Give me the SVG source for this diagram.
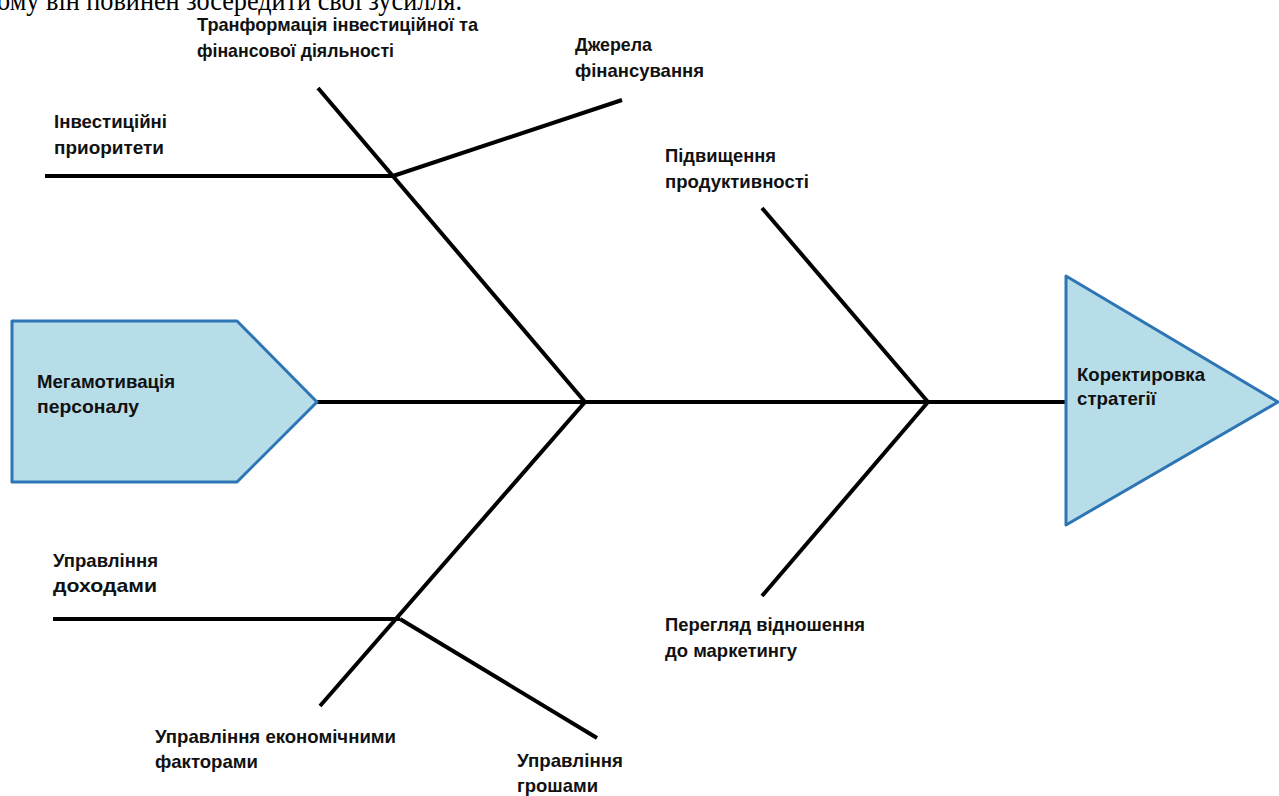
<svg xmlns="http://www.w3.org/2000/svg" width="1279" height="796" viewBox="0 0 1279 796">
<style>
.lbl{font-family:"Liberation Sans",Arial,sans-serif;font-weight:bold;font-size:18.5px;fill:#111;}
.bone{stroke:#000;stroke-width:4;fill:none;stroke-linecap:butt;}
.shape{fill:#b7dde8;stroke:#2e75b6;stroke-width:3;stroke-linejoin:round;}
.top{font-family:"Liberation Serif","Times New Roman",serif;font-size:29px;fill:#000;}
</style>
<rect width="1279" height="796" fill="#fff"/>
<text class="top" x="-14" y="10" textLength="476" lengthAdjust="spacingAndGlyphs">тому він повинен зосередити свої зусилля.</text>
<g id="connectors">
<line class="bone" x1="317" y1="402" x2="1066" y2="402"/>
<line class="bone" x1="318" y1="88" x2="585" y2="402"/>
<line class="bone" x1="585" y1="402" x2="320" y2="706"/>
<line class="bone" x1="45" y1="176" x2="393" y2="176"/>
<line class="bone" x1="393" y1="176" x2="622" y2="100"/>
<line class="bone" x1="53" y1="619" x2="400" y2="619"/>
<line class="bone" x1="400" y1="619" x2="597" y2="738"/>
<line class="bone" x1="762" y1="208" x2="928" y2="402"/>
<line class="bone" x1="928" y1="402" x2="762" y2="596"/>
</g>
<g id="head-left">
<polygon class="shape" points="12,321 237,321 317,402 237,482 12,482"/>
<text class="lbl" x="37" y="388" textLength="138" lengthAdjust="spacingAndGlyphs">Мегамотивація</text>
<text class="lbl" x="37" y="413" textLength="102" lengthAdjust="spacingAndGlyphs">персоналу</text>
</g>
<g id="head-right">
<polygon class="shape" points="1066,276 1278,402 1066,525"/>
<text class="lbl" x="1077" y="381" textLength="128" lengthAdjust="spacingAndGlyphs">Коректировка</text>
<text class="lbl" x="1077" y="405" textLength="79" lengthAdjust="spacingAndGlyphs">стратегії</text>
</g>
<g id="n-transform">
<text class="lbl" x="197" y="31" textLength="281" lengthAdjust="spacingAndGlyphs">Транформація інвестиційної та</text>
<text class="lbl" x="197" y="57" textLength="197" lengthAdjust="spacingAndGlyphs">фінансової діяльності</text>
</g>
<g id="n-sources">
<text class="lbl" x="575" y="51" textLength="77" lengthAdjust="spacingAndGlyphs">Джерела</text>
<text class="lbl" x="575" y="77" textLength="129" lengthAdjust="spacingAndGlyphs">фінансування</text>
</g>
<g id="n-invest">
<text class="lbl" x="54" y="128" textLength="113" lengthAdjust="spacingAndGlyphs">Інвестиційні</text>
<text class="lbl" x="54" y="154" textLength="110" lengthAdjust="spacingAndGlyphs">приоритети</text>
</g>
<g id="n-productivity">
<text class="lbl" x="665" y="162" textLength="111" lengthAdjust="spacingAndGlyphs">Підвищення</text>
<text class="lbl" x="665" y="188" textLength="144" lengthAdjust="spacingAndGlyphs">продуктивності</text>
</g>
<g id="n-income">
<text class="lbl" x="53" y="567" textLength="105" lengthAdjust="spacingAndGlyphs">Управління</text>
<text class="lbl" x="53" y="592" textLength="104" lengthAdjust="spacingAndGlyphs">доходами</text>
</g>
<g id="n-marketing">
<text class="lbl" x="665" y="631" textLength="200" lengthAdjust="spacingAndGlyphs">Перегляд відношення</text>
<text class="lbl" x="665" y="657" textLength="132" lengthAdjust="spacingAndGlyphs">до маркетингу</text>
</g>
<g id="n-econ">
<text class="lbl" x="155" y="743" textLength="241" lengthAdjust="spacingAndGlyphs">Управління економічними</text>
<text class="lbl" x="155" y="768" textLength="103" lengthAdjust="spacingAndGlyphs">факторами</text>
</g>
<g id="n-money">
<text class="lbl" x="517" y="767" textLength="106" lengthAdjust="spacingAndGlyphs">Управління</text>
<text class="lbl" x="517" y="792" textLength="81" lengthAdjust="spacingAndGlyphs">грошами</text>
</g>
</svg>
